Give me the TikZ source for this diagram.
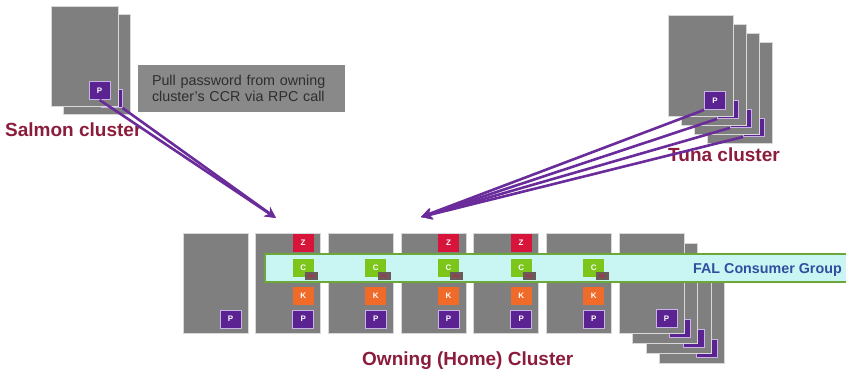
\documentclass[tikz,border=0pt]{standalone}
\usepackage{fontspec}
\setmainfont{Liberation Sans}
\usetikzlibrary{positioning,arrows.meta}

\definecolor{srvgray}{HTML}{7F7F7F}
\definecolor{srvedge}{HTML}{D8D8D8}
\definecolor{notegray}{HTML}{898989}
\definecolor{notetext}{HTML}{2E2E2E}
\definecolor{ppurple}{HTML}{5A2391}
\definecolor{plavender}{HTML}{C9B3E6}
\definecolor{zred}{HTML}{D7143A}
\definecolor{cgreen}{HTML}{7CC61C}
\definecolor{korange}{HTML}{F06A2A}
\definecolor{tagdark}{HTML}{6A5A5A}
\definecolor{bandcyan}{HTML}{C9F5F2}
\definecolor{bandgreen}{HTML}{6BA83A}
\definecolor{falblue}{HTML}{2F4F9F}
\definecolor{titlered}{HTML}{8B1C3C}
\definecolor{rpcpurple}{HTML}{6A2C9A}

\tikzset{
	server/.style={fill=srvgray, draw=srvedge, line width=0.8pt},
	part/.style={minimum width=21pt, minimum height=18pt, inner sep=0pt, text=white, font=\bfseries\fontsize{8}{8}\selectfont},
	ppart/.style={part, fill=ppurple, draw=plavender, line width=0.8pt},
	zpart/.style={part, fill=zred},
	cpart/.style={part, fill=cgreen},
	kpart/.style={part, fill=korange},
	faltag/.style={fill=tagdark, minimum width=13pt, minimum height=8pt, inner sep=0pt, text=zred, font=\bfseries\fontsize{3.5}{4}\selectfont},
	clustername/.style={text=titlered, font=\bfseries\fontsize{19}{22}\selectfont, inner sep=0pt, anchor=base west},
	rpc/.style={rpcpurple, line width=2.6pt, -{Stealth[length=11pt,width=11pt]}},
}

\begin{document}
\begin{tikzpicture}[x=1pt, y=-1pt]
		\useasboundingbox (0,0) rectangle (846,369);
		
		%salmon cluster
		\foreach \k in {1,0}{
			\draw[server] (51+12*\k, 6+8*\k) rectangle +(67,100);
			\node[ppart] (sp\k) at (99.5+12*\k, 90.5+8*\k) {P};
		}
		
		%tuna cluster
		\foreach \k in {3,2,1,0}{
			\draw[server] (668+13*\k, 15+9*\k) rectangle +(65,101);
			\node[ppart] (tp\k) at (715+13*\k, 100.5+9*\k) {P};
		}
		
		\node[fill=notegray, text=notetext, minimum width=207pt, minimum height=47pt, text width=179pt, inner xsep=14pt, align=left, font=\fontsize{14.3}{16.5}\selectfont] (note) at (241.5,88.5) {Pull password from owning\\cluster's CCR via RPC call};
		
		%owning cluster
		\foreach \i in {0,...,5}{
			\draw[server] (183+72.67*\i, 233) rectangle +(65,100);
			\node[ppart] (hp\i) at (230.5+72.67*\i, 319) {P};
		}
		\foreach \k in {3,2,1,0}{
			\draw[server] (619+13.5*\k, 233+10*\k) rectangle +(65,100);
			\node[ppart] (hs\k) at (666.5+13.5*\k, 318.5+10*\k) {P};
		}
		\foreach \i in {1,3,4}{
			\node[zpart] (hz\i) at (230.5+72.67*\i, 243) {Z};
		}
		\foreach \i in {1,...,5}{
			\node[kpart] (hk\i) at (230.5+72.67*\i, 296) {K};
		}
		
		%consumer group band
		\node[draw=bandgreen, line width=2pt, fill=bandcyan, minimum width=583pt, minimum height=28pt, inner sep=0pt] (band) at (556.5,268) {};
		\foreach \i in {1,...,5}{
			\node[cpart] (hc\i) at (230.5+72.67*\i, 268) {C};
			\node[faltag] (ht\i) at (238.8+72.67*\i, 276) {FAL};
		}
		\node[font=\bfseries\fontsize{14.3}{16}\selectfont, text=falblue, anchor=base west, inner sep=0pt] (bandname) at (693,273) {FAL Consumer Group};
		
		\node[clustername] (salmonname) at (5,136) {Salmon cluster};
		\node[clustername] (tunaname) at (668,161) {Tuna cluster};
		\node[clustername] (homename) at (362,365) {Owning (Home) Cluster};
		
		%rpc calls
		\coordinate (salmontip) at (276,218);
		\coordinate (tunatip) at (421,217);
		\draw[rpc] (sp0.south) -- (salmontip);
		\draw[rpc] (sp1.south east) -- (salmontip);
		\foreach \k in {0,...,3}{
			\draw[rpc] (tp\k.south west) -- (tunatip);
		}
\end{tikzpicture}
\end{document}
